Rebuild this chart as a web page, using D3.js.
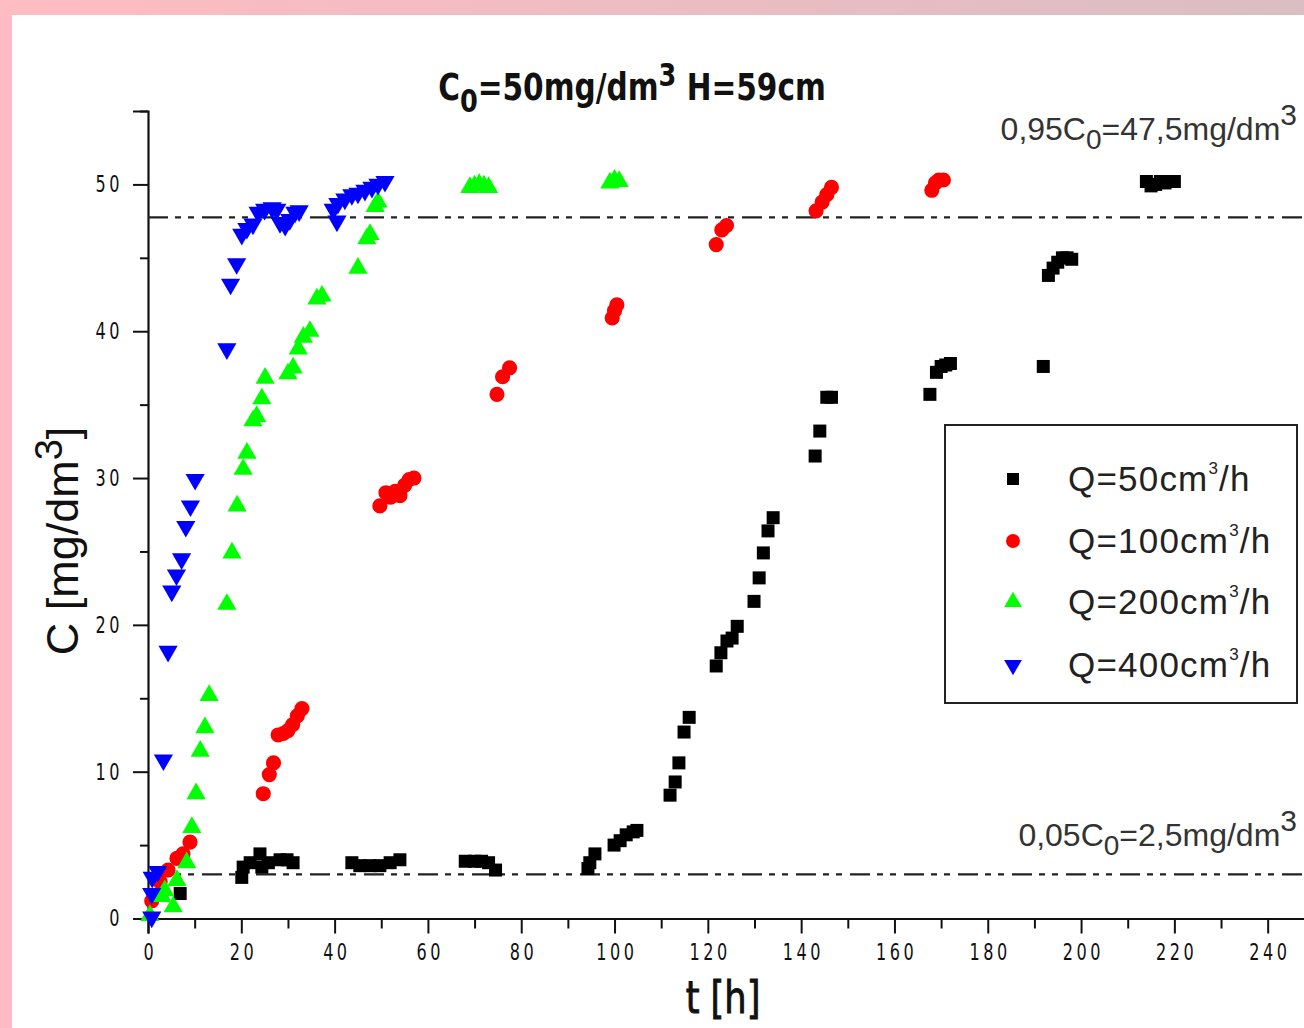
<!DOCTYPE html>
<html>
<head>
<meta charset="utf-8">
<script src="https://cdn.jsdelivr.net/npm/d3@7"></script>
<style>
  body { margin: 0; background: #fff; }
  svg { display: block; }
</style>
</head>
<body>
<svg id="chart"></svg>
<script>
// Q=50 cm3/h
const q50T = [6.9, 20.1, 20.4, 21.9, 24, 24.4, 25.8, 28.3, 29.8, 31.1,
  43.7, 45.4, 47.6, 49.7, 51.9, 54, 68, 70, 71.5, 73, 74.5,
  94.3, 94.7, 95.8, 99.9, 101.2, 102.5, 104, 104.8,
  111.9, 113, 113.8, 114.9, 116, 121.8, 122.8, 124.1, 125.2, 126.3,
  129.9, 131, 131.9, 132.9, 134, 143, 144, 145.5, 146.5,
  167.6, 169, 170, 171, 172, 191.9, 193, 194, 195, 196, 197, 198,
  214, 215, 216, 217, 218, 219, 220];
const q50C = [1.7, 2.8, 3.5, 3.8, 4.4, 3.5, 3.8, 4.0, 4.0, 3.8,
  3.8, 3.6, 3.6, 3.6, 3.8, 4.0, 3.9, 3.9, 3.9, 3.8, 3.3,
  3.4, 3.8, 4.4, 5.0, 5.3, 5.7, 5.9, 6.0,
  8.4, 9.3, 10.6, 12.7, 13.7, 17.2, 18.1, 18.9, 19.1, 19.9,
  21.6, 23.2, 24.9, 26.4, 27.3, 31.5, 33.2, 35.5, 35.5,
  35.7, 37.2, 37.6, 37.7, 37.8, 37.6, 43.8, 44.3, 44.7, 45.0, 45.0, 44.9,
  50.2, 49.9, 50.0, 50.2, 50.1, 50.2, 50.2];

// Q=100 cm3/h
const q100T = [0.8, 2.6, 4.3, 6.2, 7.5, 9,
  24.7, 26, 26.9, 27.9, 29, 30, 31, 32, 33,
  49.7, 51, 52, 53, 54, 55, 56, 57,
  74.8, 76, 77.5, 99.5, 100, 100.5, 121.8, 123, 124,
  143.2, 144.5, 145.5, 146.5, 168, 168.8, 169.5, 170.5];
const q100C = [1.2, 2.5, 3.3, 4.1, 4.4, 5.2,
  8.5, 9.8, 10.6, 12.5, 12.6, 12.8, 13.2, 13.8, 14.3,
  28.1, 29.0, 28.7, 29.1, 28.8, 29.5, 29.9, 30.0,
  35.7, 36.9, 37.5, 40.9, 41.4, 41.8, 45.9, 46.9, 47.2,
  48.2, 48.8, 49.3, 49.8, 49.6, 50.1, 50.3, 50.3];

// Q=200 cm3/h
const q200T = [0.4, 3, 3.6, 5.4, 6.2, 8.3, 9.4, 10.3, 11.2, 12.2, 13.1,
  16.9, 18, 19.1, 20.4, 21.2, 22.5, 23.3, 24.4, 25.1,
  30, 31.1, 32.2, 33.3, 34.7, 36.2, 37.3, 45, 46.9, 47.6, 48.7, 49.3,
  69, 70, 71, 72, 73, 99, 100, 101];
const q200C = [0.2, 1.5, 1.9, 0.8, 2.6, 3.8, 6.2, 8.5, 11.4, 13.0, 15.2,
  21.4, 24.9, 28.1, 30.6, 31.7, 33.9, 34.2, 35.4, 36.8,
  37.1, 37.5, 38.8, 39.6, 40.0, 42.2, 42.4, 44.3, 46.3, 46.6, 48.5, 48.8,
  49.8, 49.9, 50.0, 49.9, 49.8, 50.1, 50.3, 50.2];

// Q=400 cm3/h
const q400T = [0.8, 0.9, 2.1, 0.8, 3.3, 4.3, 5.1, 6.1, 7.2, 8.1, 9.1, 10.1,
  16.9, 17.7, 19, 20.1, 21.2, 22.5, 23.6, 25, 26.6, 27.6, 28.3, 29.4, 30.4, 31.5, 32.4,
  39.7, 40.5, 40.7, 42.2, 43.7, 45, 46.5, 48, 49.3, 50.8];
const q400C = [1.7, 2.8, 3.2, 0.1, 10.8, 18.2, 22.3, 23.4, 24.5, 26.7, 28.1, 29.9,
  38.8, 43.2, 44.6, 46.6, 47.0, 47.3, 48.1, 48.3, 48.4, 48.3, 47.4, 47.2, 47.6, 48.1, 48.2,
  48.3, 47.5, 48.7, 49.0, 49.3, 49.4, 49.6, 49.8, 50.0, 50.2];

const xTicks = [0, 20, 40, 60, 80, 100, 120, 140, 160, 180, 200, 220, 240];
const xMinor = [10, 30, 50, 70, 90, 110, 130, 150, 170, 190, 210, 230];
const yTicks = [0, 10, 20, 30, 40, 50];
const yMinor = [5, 15, 25, 35, 45, 55];
const refLines = [3.0, 47.75];

const W = 1304, H = 1028;
const narrow = '"DejaVu Sans", "Liberation Sans", Arial, sans-serif';
const regular = '"Liberation Sans", Arial, sans-serif';
const squeeze = 0.7; // horizontal squeeze for the narrow tick font

const svg = d3.select("#chart").attr("width", W).attr("height", H);

// pink frame
const defs = svg.append("defs");
const grad = defs.append("linearGradient").attr("id", "frame").attr("x1", "0").attr("x2", "1");
grad.append("stop").attr("offset", "0").attr("stop-color", "#ffbcc3");
grad.append("stop").attr("offset", "1").attr("stop-color", "#d9bec2");
svg.append("rect").attr("width", W).attr("height", H).attr("fill", "url(#frame)");
svg.append("rect").attr("x", 0).attr("y", 15).attr("width", 12).attr("height", H).attr("fill", "#ffbac3");
svg.append("rect").attr("x", 12).attr("y", 15).attr("width", W).attr("height", H).attr("fill", "#fff");

const x = d3.scaleLinear().domain([0, 248]).range([148, 1305]);
const y = d3.scaleLinear().domain([0, 55]).range([918.5, 111]);

// axes
const yAxis = svg.append("g").attr("transform", `translate(${x(0)},0)`)
  .call(d3.axisLeft(y).tickValues(yTicks).tickSize(15).tickPadding(8));
svg.append("g").attr("transform", `translate(${x(0)},0)`)
  .call(d3.axisLeft(y).tickValues(yMinor).tickSize(8).tickFormat(""))
  .select(".domain").remove();
const xAxis = svg.append("g").attr("transform", `translate(0,${y(0)})`)
  .call(d3.axisBottom(x).tickValues(xTicks).tickSize(15).tickPadding(10));
svg.append("g").attr("transform", `translate(0,${y(0)})`)
  .call(d3.axisBottom(x).tickValues(xMinor).tickSize(10).tickFormat(""))
  .select(".domain").remove();

svg.selectAll(".domain").attr("stroke", "#111").attr("stroke-width", 2.2);
svg.selectAll(".tick line").attr("stroke", "#111").attr("stroke-width", 2);
svg.selectAll(".tick text")
  .attr("font-family", narrow)
  .attr("font-size", 23)
  .attr("letter-spacing", 5)
  .attr("fill", "#111")
  .attr("transform", `scale(${squeeze},1)`);
yAxis.selectAll(".tick text").attr("x", -25 / squeeze);
xAxis.selectAll(".tick text").attr("dx", 2.5);

// reference lines
svg.selectAll(".ref").data(refLines).enter().append("line")
  .attr("class", "ref")
  .attr("x1", x(0)).attr("x2", W)
  .attr("y1", d => y(d)).attr("y2", d => y(d))
  .attr("stroke", "#222").attr("stroke-width", 2.2)
  .attr("stroke-dasharray", "20,7,6,7,6,8");

// series
const series = [
  { t: q50T, c: q50C, color: "#000000", type: d3.symbolSquare, size: 169, rot: 0 },
  { t: q100T, c: q100C, color: "#ff0000", type: d3.symbolCircle, size: 180, rot: 0 },
  { t: q200T, c: q200C, color: "#00ff00", type: d3.symbolTriangle, size: 160, rot: 0 },
  { t: q400T, c: q400C, color: "#0000ff", type: d3.symbolTriangle, size: 160, rot: 180 }
];

series.forEach(s => {
  svg.append("g").selectAll("path")
    .data(d3.range(s.t.length))
    .enter().append("path")
    .attr("d", d3.symbol().type(s.type).size(s.size))
    .attr("transform", i => `translate(${x(s.t[i])},${y(s.c[i])}) rotate(${s.rot})`)
    .attr("fill", s.color);
});

// legend
const legendLabels = ["50", "100", "200", "400"];
const legendY = [479, 541, 602, 665];
svg.append("rect").attr("x", 945).attr("y", 425).attr("width", 352).attr("height", 278)
  .attr("fill", "#fff").attr("stroke", "#222").attr("stroke-width", 2);
series.forEach((s, i) => {
  svg.append("path")
    .attr("d", d3.symbol().type(s.type).size(s.size * 0.85))
    .attr("transform", `translate(1013,${legendY[i]}) rotate(${s.rot})`)
    .attr("fill", s.color);
  const t = svg.append("text")
    .attr("x", 1068).attr("y", legendY[i] + 12)
    .attr("font-family", regular).attr("font-size", 35)
    .attr("letter-spacing", 1.2)
    .attr("fill", "#222");
  t.append("tspan").text(`Q=${legendLabels[i]}cm`);
  t.append("tspan").attr("font-size", 17).attr("dy", -17).text("3");
  t.append("tspan").attr("dy", 17).text("/h");
});

// title
const title = svg.append("g").attr("transform", "translate(632,100) scale(0.8,1)")
  .append("text")
  .attr("text-anchor", "middle")
  .attr("font-family", narrow).attr("font-size", 37).attr("font-weight", "bold")
  .attr("fill", "#111");
title.append("tspan").text("C");
title.append("tspan").attr("dy", 12).attr("font-size", 32).text("0");
title.append("tspan").attr("dy", -12).text("=50mg/dm");
title.append("tspan").attr("dy", -14).attr("font-size", 32).text("3");
title.append("tspan").attr("dy", 14).text(" H=59cm");

// reference line labels
function refLabel(yPos, pre, post) {
  const t = svg.append("text")
    .attr("x", 1297).attr("y", yPos)
    .attr("text-anchor", "end")
    .attr("font-family", regular).attr("font-size", 32)
    .attr("fill", "#333");
  t.append("tspan").text(pre);
  t.append("tspan").attr("dy", 9).attr("font-size", 28).text("0");
  t.append("tspan").attr("dy", -9).text(post);
  t.append("tspan").attr("dy", -15).attr("font-size", 30).text("3");
}
refLabel(140, "0,95C", "=47,5mg/dm");
refLabel(846, "0,05C", "=2,5mg/dm");

// axis titles
svg.append("g").attr("transform", "translate(723,1013) scale(0.8,1)")
  .append("text")
  .attr("text-anchor", "middle")
  .attr("font-family", narrow).attr("font-size", 44)
  .attr("stroke", "#111").attr("stroke-width", 1)
  .attr("fill", "#111")
  .text("t [h]");

const yl = svg.append("text")
  .attr("transform", "translate(78,541) rotate(-90)")
  .attr("text-anchor", "middle")
  .attr("font-family", regular).attr("font-size", 45)
  .attr("fill", "#111");
yl.append("tspan").text("C [mg/dm");
yl.append("tspan").attr("dy", -16).attr("font-size", 38).text("3");
yl.append("tspan").attr("dy", 16).text("]");
</script>
</body>
</html>
